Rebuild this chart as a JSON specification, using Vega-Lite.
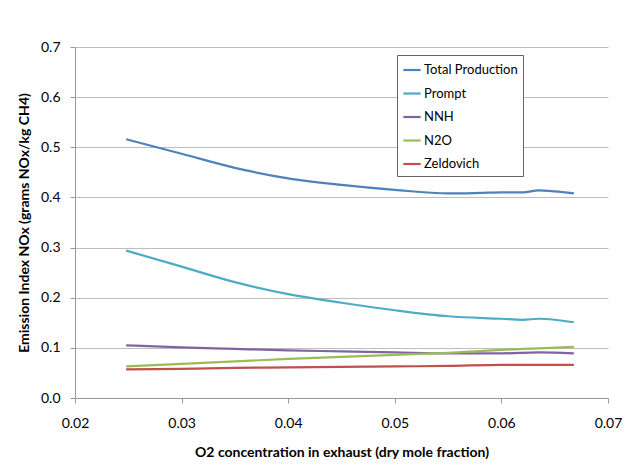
{
  "$schema": "https://vega.github.io/schema/vega-lite/v6.json",
  "width": 533,
  "height": 351,
  "autosize": {"type": "none"},
  "padding": {"left": 75, "top": 47, "right": 34, "bottom": 72},
  "background": "white",
  "config": {
    "font": "Lato",
    "view": {"stroke": null},
    "axis": {"labelFont": "Lato", "titleFont": "Lato", "labelColor": "#000", "titleColor": "#000", "domainColor": "#999", "tickColor": "#999", "gridColor": "#bdbdbd", "gridWidth": 1.2}
  },
  "data": {"values": [
    {"series": "Total Production", "x": 0.0248, "y": 0.516},
    {"series": "Total Production", "x": 0.030, "y": 0.487},
    {"series": "Total Production", "x": 0.035, "y": 0.459},
    {"series": "Total Production", "x": 0.040, "y": 0.438},
    {"series": "Total Production", "x": 0.045, "y": 0.425},
    {"series": "Total Production", "x": 0.050, "y": 0.415},
    {"series": "Total Production", "x": 0.055, "y": 0.408},
    {"series": "Total Production", "x": 0.058, "y": 0.409},
    {"series": "Total Production", "x": 0.060, "y": 0.410},
    {"series": "Total Production", "x": 0.062, "y": 0.410},
    {"series": "Total Production", "x": 0.0635, "y": 0.414},
    {"series": "Total Production", "x": 0.065, "y": 0.412},
    {"series": "Total Production", "x": 0.0668, "y": 0.408},
    {"series": "Prompt", "x": 0.0248, "y": 0.294},
    {"series": "Prompt", "x": 0.030, "y": 0.262},
    {"series": "Prompt", "x": 0.035, "y": 0.231},
    {"series": "Prompt", "x": 0.040, "y": 0.207},
    {"series": "Prompt", "x": 0.045, "y": 0.190},
    {"series": "Prompt", "x": 0.050, "y": 0.175},
    {"series": "Prompt", "x": 0.055, "y": 0.163},
    {"series": "Prompt", "x": 0.060, "y": 0.158},
    {"series": "Prompt", "x": 0.062, "y": 0.156},
    {"series": "Prompt", "x": 0.0635, "y": 0.158},
    {"series": "Prompt", "x": 0.065, "y": 0.156},
    {"series": "Prompt", "x": 0.0668, "y": 0.151},
    {"series": "NNH", "x": 0.0248, "y": 0.105},
    {"series": "NNH", "x": 0.030, "y": 0.101},
    {"series": "NNH", "x": 0.035, "y": 0.098},
    {"series": "NNH", "x": 0.040, "y": 0.095},
    {"series": "NNH", "x": 0.045, "y": 0.093},
    {"series": "NNH", "x": 0.050, "y": 0.091},
    {"series": "NNH", "x": 0.055, "y": 0.089},
    {"series": "NNH", "x": 0.060, "y": 0.089},
    {"series": "NNH", "x": 0.0635, "y": 0.091},
    {"series": "NNH", "x": 0.0668, "y": 0.089},
    {"series": "N2O", "x": 0.0248, "y": 0.063},
    {"series": "N2O", "x": 0.030, "y": 0.068},
    {"series": "N2O", "x": 0.035, "y": 0.073},
    {"series": "N2O", "x": 0.040, "y": 0.078},
    {"series": "N2O", "x": 0.045, "y": 0.082},
    {"series": "N2O", "x": 0.050, "y": 0.086},
    {"series": "N2O", "x": 0.055, "y": 0.090},
    {"series": "N2O", "x": 0.060, "y": 0.096},
    {"series": "N2O", "x": 0.0635, "y": 0.099},
    {"series": "N2O", "x": 0.0668, "y": 0.102},
    {"series": "Zeldovich", "x": 0.0248, "y": 0.057},
    {"series": "Zeldovich", "x": 0.030, "y": 0.058},
    {"series": "Zeldovich", "x": 0.035, "y": 0.060},
    {"series": "Zeldovich", "x": 0.040, "y": 0.061},
    {"series": "Zeldovich", "x": 0.045, "y": 0.062},
    {"series": "Zeldovich", "x": 0.050, "y": 0.063},
    {"series": "Zeldovich", "x": 0.055, "y": 0.064},
    {"series": "Zeldovich", "x": 0.060, "y": 0.066},
    {"series": "Zeldovich", "x": 0.0635, "y": 0.066},
    {"series": "Zeldovich", "x": 0.0668, "y": 0.066}
  ]},
  "mark": {"type": "line", "interpolate": "monotone", "strokeWidth": 2.2},
  "encoding": {
    "x": {
      "field": "x", "type": "quantitative",
      "scale": {"domain": [0.02, 0.07], "nice": false, "zero": false},
      "axis": {"title": "O2 concentration in exhaust (dry mole fraction)", "values": [0.02, 0.03, 0.04, 0.05, 0.06, 0.07], "format": ".2f", "grid": false, "labelFontSize": 14, "titleFontSize": 14, "titleFontWeight": "bold", "tickSize": 5, "labelPadding": 13, "titlePadding": 15, "labelFlush": false}
    },
    "y": {
      "field": "y", "type": "quantitative",
      "scale": {"domain": [0, 0.7], "nice": false},
      "axis": {"title": "Emission Index NOx (grams NOx/kg CH4)", "values": [0, 0.1, 0.2, 0.3, 0.4, 0.5, 0.6, 0.7], "format": ".1f", "grid": true, "labelFontSize": 14, "titleFontSize": 14, "titleFontWeight": "bold", "tickSize": 5, "labelPadding": 10, "titlePadding": 9, "domain": true}
    },
    "color": {
      "field": "series", "type": "nominal",
      "scale": {"domain": ["Total Production", "Prompt", "NNH", "N2O", "Zeldovich"], "range": ["#4F81BD", "#4BACC6", "#8064A2", "#9BBB59", "#C0504D"]},
      "legend": {"title": null, "orient": "none", "legendX": 322, "legendY": 8, "symbolType": "stroke", "symbolStrokeWidth": 2.2, "symbolSize": 300, "labelFontSize": 13, "labelFont": "Lato", "labelColor": "#000", "rowPadding": 6.5, "strokeColor": "#666", "padding": 5, "fillColor": "white", "labelOffset": 2, "symbolOffset": 0}
    }
  }
}
